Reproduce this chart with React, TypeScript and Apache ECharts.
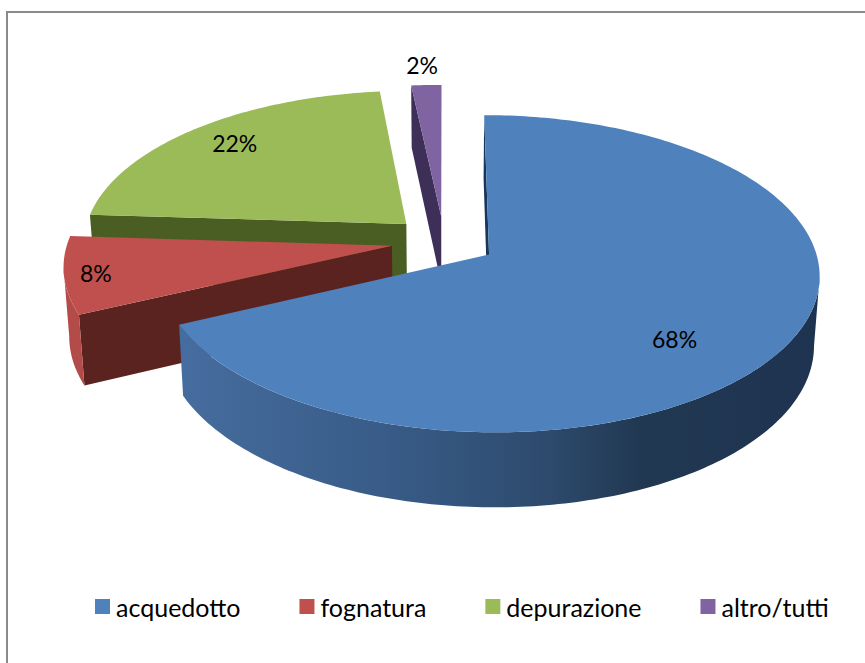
import React, { useEffect, useRef } from "react";
import * as echarts from "echarts";

const categories = ["acquedotto", "fognatura", "depurazione", "altro/tutti"];
const shares = [68, 8, 22.3, 1.7];
const topColors = ["#4f81bd", "#c0504d", "#9bbb59", "#8064a2"];
const radialWallColors = ["#17365d", "#5a2320", "#4a5e23", "#3d2f58"];
const outerWallColors: any[] = [
  {
    type: "linear", x: 0, y: 0, x2: 1, y2: 0,
    colorStops: [
      { offset: 0, color: "#466d9f" },
      { offset: 0.35, color: "#375a85" },
      { offset: 0.58, color: "#2d4a6c" },
      { offset: 0.72, color: "#213852" },
      { offset: 1, color: "#1e3350" },
    ],
  },
  "#b34c49",
  "#8aa84f",
  "#6f5690",
];
const drawOrder = [2, 3, 1, 0];
// where each percentage label sits on the pie's ground plane (x, nearness)
const labelGround = [
  [0.661, 0.593],
  [-1.048, 0.204],
  [-0.6996, -0.6935],
  [-0.0785, -1.333],
];

const CX = 444, CY = 241, A = 324, B = 153, P = 0.12, E = 0.163, H = 68, LOW = 0.985;
const WALL_FROM = 98, WALL_TO = 262;
const FONT = "Lato";
const rad = (d: number) => (d * Math.PI) / 180;

const total = shares.reduce((a, b) => a + b, 0);
const starts: number[] = [];
shares.reduce((acc, v, i) => {
  starts[i] = acc;
  return acc + (v / total) * 360;
}, 0);
const ends = shares.map((v, i) => starts[i] + (v / total) * 360);

function ground(x: number, f: number, low: boolean): number[] {
  const s = 1 / (1 - P * f);
  let px = CX + A * x * s;
  let py = CY + B * f * s;
  if (low) {
    px = CX + (px - CX) * LOW;
    py += H * Math.pow(s, 0.7);
  }
  return [px, py];
}

function project(i: number, deg: number, r: number, low: boolean): number[] {
  const mid = rad((starts[i] + ends[i]) / 2);
  const t = rad(deg);
  return ground(E * Math.sin(mid) + r * Math.sin(t), -E * Math.cos(mid) - r * Math.cos(t), low);
}

function arc(i: number, from: number, to: number, low: boolean): number[][] {
  const n = Math.max(2, Math.ceil(Math.abs(to - from) / 1));
  const pts: number[][] = [];
  for (let k = 0; k <= n; k++) pts.push(project(i, from + ((to - from) * k) / n, 1, low));
  return pts;
}

function poly(points: number[][], fill: any) {
  return { type: "polygon", silent: true, shape: { points }, style: { fill } };
}

function renderSlice(i: number) {
  const children: any[] = [];
  const a0 = starts[i], a1 = ends[i];
  const radial = (deg: number) =>
    poly(
      [project(i, deg, 0, false), project(i, deg, 1, false), project(i, deg, 1, true), project(i, deg, 0, true)],
      radialWallColors[i]
    );
  if (Math.sin(rad(a0)) <= 0.001) children.push(radial(a0));
  if (Math.sin(rad(a1)) > 0.001) children.push(radial(a1));
  const w0 = Math.max(a0, WALL_FROM), w1 = Math.min(a1, WALL_TO);
  if (w1 > w0) {
    children.push(poly([...arc(i, w0, w1, false), ...arc(i, w1, w0, true)], outerWallColors[i]));
  }
  children.push(poly([project(i, a0, 0, false), ...arc(i, a0, a1, false)], topColors[i]));
  const [lx, ly] = ground(labelGround[i][0], labelGround[i][1], false);
  children.push({
    type: "text",
    silent: true,
    style: {
      x: lx, y: ly,
      text: `${Math.round((shares[i] / total) * 100)}%`,
      textAlign: "center", textVerticalAlign: "middle",
      fontFamily: FONT, fontSize: 23, fill: "#000",
    },
  });
  return { type: "group", children };
}

export default function App() {
  const ref = useRef<HTMLDivElement>(null);
  useEffect(() => {
    const chart = echarts.init(ref.current!, null, { renderer: "svg" });
    chart.setOption({
      animation: false,
      backgroundColor: "#ffffff",
      graphic: [
        {
          type: "rect", silent: true, z: 0,
          shape: { x: 7, y: 12, width: 900, height: 700 },
          style: { fill: "none", stroke: "#8a8a8a", lineWidth: 2 },
        },
      ],
      legend: {
        data: categories,
        left: 95,
        top: 594,
        orient: "horizontal",
        icon: "rect",
        itemWidth: 15,
        itemHeight: 15,
        itemGap: 59,
        padding: 0,
        selectedMode: false,
        textStyle: { fontFamily: FONT, fontSize: 25, color: "#000", padding: [0, 0, 5, 1] },
      },
      series: drawOrder.map((i, order) => ({
        type: "custom",
        name: categories[i],
        coordinateSystem: "none",
        z: order + 2,
        itemStyle: { color: topColors[i] },
        data: [[shares[i]]],
        renderItem: () => renderSlice(i),
      })),
    });
    return () => chart.dispose();
  }, []);
  return <div ref={ref} style={{ position: "fixed", left: 0, top: 0, width: 865, height: 663 }} />;
}
